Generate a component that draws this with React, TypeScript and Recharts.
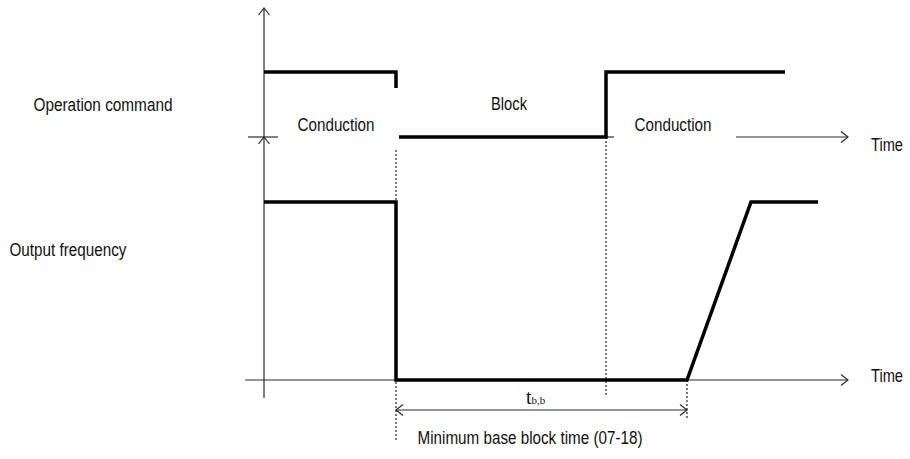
import React from 'react';
import { ComposedChart, Line, XAxis, YAxis, ReferenceLine, ReferenceDot } from 'recharts';

// time axis: 1 unit = 10px, level axis: 1 unit = 10px (upwards)
const cmdBeforeBlock = [
    { t: 0, v: 38.7 },
    { t: 13.2, v: 38.7 },
    { t: 13.2, v: 37.1 },
];
const cmdAfterBlock = [
    { t: 13.5, v: 32.2 },
    { t: 34.2, v: 32.2 },
    { t: 34.2, v: 38.7 },
    { t: 52.1, v: 38.7 },
];
const outputFreq = [
    { t: 0, v: 25.7 },
    { t: 13.2, v: 25.7 },
    { t: 13.2, v: 7.9 },
    { t: 42.3, v: 7.9 },
    { t: 48.7, v: 25.7 },
    { t: 55.4, v: 25.7 },
];

// guide lines [t1, v1, t2, v2]
const dottedGuides = [
    [13.2, 30.9, 13.2, 1.9],
    [34.2, 32.2, 34.2, 6.4],
    [42.3, 7.9, 42.3, 3.9],
];
const plainSegments = [
    [-1.6, 32.2, 1.4, 32.2],
    [34.2, 32.2, 35.0, 32.2],
];
const arrowSegments = [
    { seg: [0, 6.1, 0, 32.2], both: false },
    { seg: [0, 32.2, 0, 45.1], both: false },
    { seg: [47.2, 32.2, 58.4, 32.2], both: false },
    { seg: [-1.9, 7.9, 58.4, 7.9], both: false },
    { seg: [13.2, 4.9, 42.3, 4.9], both: true },
];

// label text with its measured width (px)
const labels = [
    { t: -16.1, v: 35.4, text: 'Operation command', w: 139 },
    { t: -19.6, v: 20.9, text: 'Output frequency', w: 117 },
    { t: 7.2, v: 33.4, text: 'Conduction', w: 77 },
    { t: 24.5, v: 35.5, text: 'Block', w: 36 },
    { t: 40.9, v: 33.4, text: 'Conduction', w: 77 },
    { t: 62.3, v: 31.4, text: 'Time', w: 32 },
    { t: 62.3, v: 8.3, text: 'Time', w: 32 },
    { t: 26.6, v: 2.1, text: 'Minimum base block time (07-18)', w: 225 },
];
const tbbPos = { t: 27.6, v: 6.1 };

const FONT = "'Liberation Sans', Arial, sans-serif";
const AXIS = '#2a2a2a';

function head(x: number, y: number, dx: number, dy: number) {
    const len = Math.hypot(dx, dy) || 1;
    const ux = dx / len, uy = dy / len;
    const L = 7, W = 5.5;
    const bx = x - ux * L, by = y - uy * L;
    return `M${bx - uy * W},${by + ux * W} L${x},${y} L${bx + uy * W},${by - ux * W}`;
}

const arrowShape = (both: boolean) => (p: any) => {
    const { x1, y1, x2, y2 } = p;
    return (
        <g fill="none" stroke={AXIS} strokeWidth={1.2}>
            <line x1={x1} y1={y1} x2={x2} y2={y2} />
            <path d={head(x2, y2, x2 - x1, y2 - y1)} />
            {both && <path d={head(x1, y1, x1 - x2, y1 - y2)} />}
        </g>
    );
};

export default function App() {
    return (
        <div style={{ position: 'absolute', left: 0, top: 0, width: 910, height: 459, background: '#fff' }}>
            <ComposedChart width={910} height={459} margin={{ top: 0, right: 0, bottom: 0, left: 0 }}>
                <XAxis type="number" dataKey="t" domain={[-26.4, 64.6]} allowDataOverflow hide />
                <YAxis type="number" domain={[0, 45.9]} allowDataOverflow hide />

                {dottedGuides.map((s, i) => (
                    <ReferenceLine key={`d${i}`} segment={[{ x: s[0], y: s[1] }, { x: s[2], y: s[3] }]}
                        stroke="#222" strokeWidth={1.2} strokeDasharray="2 2" ifOverflow="visible" />
                ))}
                {plainSegments.map((s, i) => (
                    <ReferenceLine key={`p${i}`} segment={[{ x: s[0], y: s[1] }, { x: s[2], y: s[3] }]}
                        stroke={AXIS} strokeWidth={1.2} ifOverflow="visible" />
                ))}
                {arrowSegments.map((a, i) => (
                    <ReferenceLine key={`a${i}`} segment={[{ x: a.seg[0], y: a.seg[1] }, { x: a.seg[2], y: a.seg[3] }]}
                        ifOverflow="visible" shape={arrowShape(a.both)} />
                ))}

                <Line data={cmdBeforeBlock} dataKey="v" type="linear" stroke="#000" strokeWidth={3.5}
                    dot={false} activeDot={false} isAnimationActive={false} strokeLinejoin="miter" strokeLinecap="butt" />
                <Line data={cmdAfterBlock} dataKey="v" type="linear" stroke="#000" strokeWidth={3.5}
                    dot={false} activeDot={false} isAnimationActive={false} strokeLinejoin="miter" strokeLinecap="butt" />
                <Line data={outputFreq} dataKey="v" type="linear" stroke="#000" strokeWidth={3.5}
                    dot={false} activeDot={false} isAnimationActive={false} strokeLinejoin="miter" strokeLinecap="butt" />

                {labels.map((l, i) => (
                    <ReferenceDot key={`l${i}`} x={l.t} y={l.v} r={0} ifOverflow="visible"
                        shape={(p: any) => (
                            <text x={p.cx} y={p.cy} textAnchor="middle" dominantBaseline="central"
                                textLength={l.w} lengthAdjust="spacingAndGlyphs"
                                fontFamily={FONT} fontSize={17.5} fill="#111">{l.text}</text>
                        )} />
                ))}
                <ReferenceDot x={tbbPos.t} y={tbbPos.v} r={0} ifOverflow="visible"
                    shape={(p: any) => (
                        <text x={p.cx - 14} y={p.cy + 6} fontFamily="'Liberation Serif', 'Times New Roman', serif" fill="#111">
                            <tspan fontSize={20}>t</tspan>
                            <tspan fontSize={11}>b,b</tspan>
                        </text>
                    )} />
            </ComposedChart>
        </div>
    );
}
